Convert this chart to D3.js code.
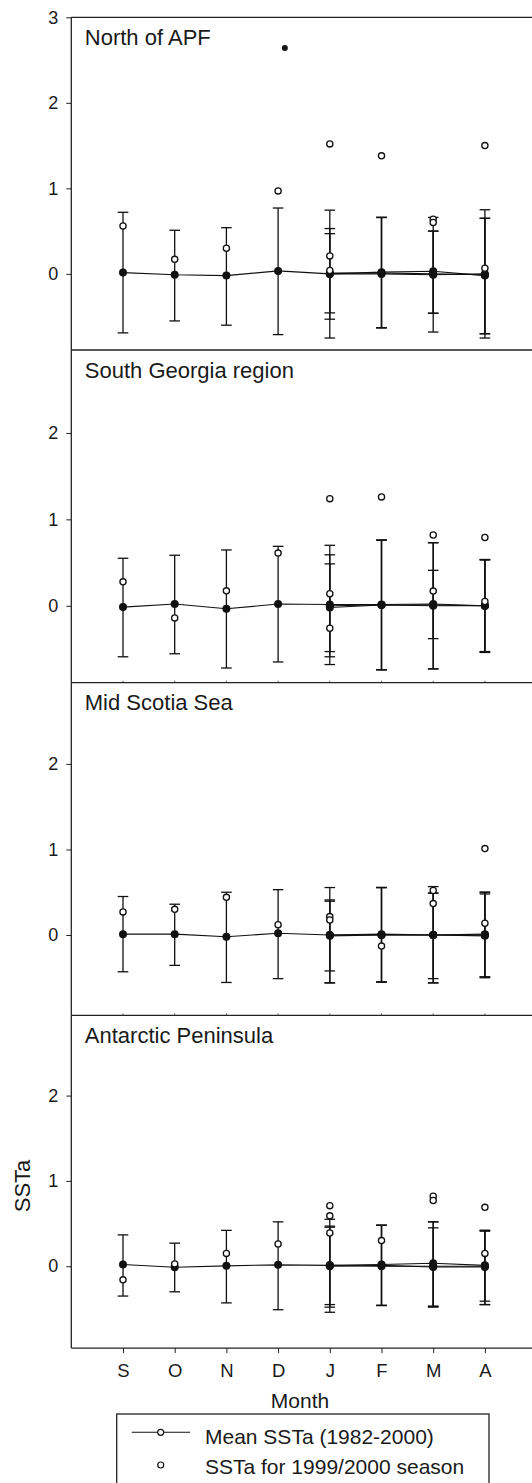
<!DOCTYPE html>
<html>
<head>
<meta charset="utf-8">
<script src="https://cdn.jsdelivr.net/npm/d3@7"></script>
<style>
  body { margin: 0; background: #fff; }
  text { font-family: "Liberation Sans", Arial, sans-serif; fill: #1a1a1a; }
</style>
</head>
<body>
<div id="chart"></div>
<script>
// Months on the x axis
var months = ["S", "O", "N", "D", "J", "F", "M", "A"];
var lateMonths = ["J", "F", "M", "A"];

// Panel names
var regions = ["North of APF", "South Georgia region", "Mid Scotia Sea", "Antarctic Peninsula"];

// y range of each panel
var yTop = [3.0, 2.96, 2.95, 2.94];
var yBottom = [-0.89, -0.89, -0.94, -0.96];

// Mean SSTa (1982-2000), whole season S..A, with error bar ends
var meanMain = [
  [0.015, -0.01, -0.02, 0.035, 0.0, 0.02, 0.03, -0.02],
  [-0.015, 0.02, -0.035, 0.02, 0.015, 0.015, 0.02, 0.0],
  [0.01, 0.01, -0.02, 0.02, 0.0, 0.01, 0.0, 0.01],
  [0.02, -0.012, 0.004, 0.016, 0.01, 0.02, 0.035, 0.01]
];
var upMain = [
  [0.72, 0.51, 0.54, 0.77, 0.745, 0.66, 0.66, 0.75],
  [0.55, 0.585, 0.646, 0.688, 0.70, 0.76, 0.73, 0.535],
  [0.45, 0.36, 0.50, 0.53, 0.555, 0.555, 0.566, 0.50],
  [0.367, 0.27, 0.42, 0.52, 0.55, 0.48, 0.52, 0.42]
];
var loMain = [
  [-0.69, -0.55, -0.60, -0.71, -0.75, -0.63, -0.68, -0.75],
  [-0.59, -0.555, -0.72, -0.65, -0.68, -0.74, -0.73, -0.53],
  [-0.43, -0.355, -0.555, -0.51, -0.56, -0.55, -0.56, -0.49],
  [-0.35, -0.30, -0.43, -0.51, -0.54, -0.46, -0.47, -0.45]
];

// Two further mean series, J..A
var meanB = [
  [0.01, 0.01, 0.0, -0.01],
  [-0.02, 0.01, 0.01, 0.0],
  [0.0, 0.0, 0.0, -0.01],
  [0.0, 0.01, -0.01, -0.01]
];
var upB = [
  [0.53, 0.66, 0.50, 0.65],
  [0.59, 0.76, 0.41, 0.53],
  [0.41, 0.555, 0.49, 0.48],
  [0.47, 0.48, 0.45, 0.41]
];
var loB = [
  [-0.53, -0.63, -0.46, -0.70],
  [-0.59, -0.74, -0.38, -0.54],
  [-0.42, -0.55, -0.51, -0.50],
  [-0.45, -0.46, -0.48, -0.41]
];
var meanC = [
  [0.0, 0.0, -0.01, 0.0],
  [0.0, 0.01, 0.0, 0.0],
  [-0.01, 0.0, 0.0, 0.0],
  [0.01, 0.0, 0.0, 0.0]
];
var upC = [
  [0.47, 0.66, 0.50, 0.65],
  [0.485, 0.76, 0.73, 0.535],
  [0.395, 0.555, 0.49, 0.50],
  [0.457, 0.48, 0.52, 0.42]
];
var loC = [
  [-0.456, -0.63, -0.46, -0.70],
  [-0.53, -0.74, -0.73, -0.53],
  [-0.56, -0.55, -0.56, -0.49],
  [-0.48, -0.46, -0.47, -0.45]
];

// SSTa for 1999/2000 season (month, value)
var season = [
  [["S", 0.56], ["O", 0.17], ["N", 0.30], ["D", 0.97], ["J", 1.52], ["J", 0.21], ["J", 0.04],
   ["F", 1.38], ["M", 0.64], ["M", 0.60], ["A", 1.50], ["A", 0.065]],
  [["S", 0.277], ["O", -0.14], ["N", 0.173], ["D", 0.61], ["J", 1.24], ["J", 0.14], ["J", -0.26],
   ["F", 1.26], ["M", 0.82], ["M", 0.17], ["A", 0.79], ["A", 0.05]],
  [["S", 0.27], ["O", 0.30], ["N", 0.44], ["D", 0.12], ["J", 0.215], ["J", 0.176],
   ["F", -0.13], ["M", 0.52], ["M", 0.367], ["A", 1.01], ["A", 0.137]],
  [["S", -0.16], ["O", 0.027], ["N", 0.15], ["D", 0.26], ["J", 0.71], ["J", 0.59], ["J", 0.39],
   ["F", 0.30], ["M", 0.82], ["M", 0.77], ["A", 0.69], ["A", 0.15]]
];

// lone filled point in the first panel (month position, value)
var extraPoint = [4.13, 2.64];

var yTicks = [[0, 1, 2, 3], [0, 1, 2], [0, 1, 2], [0, 1, 2]];

// canvas
var svgWidth = 532;
var svgHeight = 1483;
var left = 71.3;
var top0 = 17.3;
var panelH = 332.7;

var svg = d3.select("#chart")
  .append("svg")
  .attr("width", svgWidth)
  .attr("height", svgHeight);

var x = d3.scaleLinear()
  .domain([0, 9])
  .range([left, left + 9 * 51.7]);

function mx(m) { return x(months.indexOf(m) + 1); }

regions.forEach(function (name, p) {
  var pTop = top0 + p * panelH;
  var y = d3.scaleLinear()
    .domain([yBottom[p], yTop[p]])
    .range([pTop + panelH, pTop]);

  var g = svg.append("g");

  // frame: top line
  g.append("line")
    .attr("x1", left).attr("x2", svgWidth + 10)
    .attr("y1", pTop).attr("y2", pTop)
    .attr("stroke", "#222").attr("stroke-width", 1.3);

  // left axis
  var leftAxis = d3.axisLeft(y).tickValues(yTicks[p]).tickSize(5).tickPadding(8)
    .tickFormat(d3.format("d"));
  var ax = g.append("g")
    .attr("transform", `translate(${left},0)`)
    .call(leftAxis);
  ax.select(".domain").attr("stroke", "#222").attr("stroke-width", 1.3)
    .attr("d", `M0,${pTop}V${pTop + panelH}`);
  ax.selectAll(".tick line").attr("stroke", "#222");
  ax.selectAll(".tick text")
    .style("font-size", "18px")
    .style("font-family", "'Liberation Sans', Arial, sans-serif")
    .attr("fill", "#1a1a1a");

  // small inner ticks at panel bottom
  if (p > 0 && p < 3) {
    g.selectAll(".itick")
      .data(months)
      .enter()
      .append("line")
      .attr("x1", d => mx(d)).attr("x2", d => mx(d))
      .attr("y1", pTop + panelH).attr("y2", pTop + panelH - 2)
      .attr("stroke", "#444").attr("stroke-width", 0.8);
  }

  // region name
  g.append("text")
    .attr("x", left + 13.5)
    .attr("y", pTop + 27.7)
    .style("font-size", "22px")
    .text(name);

  // error bars
  var bars = [];
  months.forEach(function (m, i) {
    bars.push({ m: m, lo: loMain[p][i], up: upMain[p][i] });
  });
  lateMonths.forEach(function (m, i) {
    bars.push({ m: m, lo: loB[p][i], up: upB[p][i] });
    bars.push({ m: m, lo: loC[p][i], up: upC[p][i] });
  });

  var eb = g.selectAll(".eb")
    .data(bars)
    .enter()
    .append("g");
  eb.append("line")
    .attr("x1", d => mx(d.m)).attr("x2", d => mx(d.m))
    .attr("y1", d => y(d.lo)).attr("y2", d => y(d.up))
    .attr("stroke", "#111").attr("stroke-width", 1.3);
  eb.append("line")
    .attr("x1", d => mx(d.m) - 5.3).attr("x2", d => mx(d.m) + 5.3)
    .attr("y1", d => y(d.up)).attr("y2", d => y(d.up))
    .attr("stroke", "#111").attr("stroke-width", 1.3);
  eb.append("line")
    .attr("x1", d => mx(d.m) - 5.3).attr("x2", d => mx(d.m) + 5.3)
    .attr("y1", d => y(d.lo)).attr("y2", d => y(d.lo))
    .attr("stroke", "#111").attr("stroke-width", 1.3);

  // mean lines
  var line = d3.line()
    .x(d => mx(d[0]))
    .y(d => y(d[1]));
  var seriesList = [
    months.map((m, i) => [m, meanMain[p][i]]),
    lateMonths.map((m, i) => [m, meanB[p][i]]),
    lateMonths.map((m, i) => [m, meanC[p][i]])
  ];
  g.selectAll(".mline")
    .data(seriesList)
    .enter()
    .append("path")
    .attr("d", line)
    .attr("fill", "none")
    .attr("stroke", "#111")
    .attr("stroke-width", 1.1);

  // filled mean markers
  var allMeans = [].concat(seriesList[0], seriesList[1], seriesList[2]);
  g.selectAll(".mdot")
    .data(allMeans)
    .enter()
    .append("circle")
    .attr("cx", d => mx(d[0]))
    .attr("cy", d => y(d[1]))
    .attr("r", 4)
    .attr("fill", "#111");

  // 1999/2000 season points
  g.selectAll(".sdot")
    .data(season[p])
    .enter()
    .append("circle")
    .attr("cx", d => mx(d[0]))
    .attr("cy", d => y(d[1]))
    .attr("r", 3.1)
    .attr("fill", "#fff")
    .attr("stroke", "#111")
    .attr("stroke-width", 1.3);

  if (p === 0) {
    g.append("circle")
      .attr("cx", x(extraPoint[0]))
      .attr("cy", y(extraPoint[1]))
      .attr("r", 3)
      .attr("fill", "#111");
  }

  // bottom axis on the last panel
  if (p === 3) {
    var bottomAxis = d3.axisBottom(x)
      .tickValues(d3.range(1, 9))
      .tickFormat(d => months[d - 1])
      .tickSize(5)
      .tickPadding(11);
    var bx = g.append("g")
      .attr("transform", `translate(0,${pTop + panelH})`)
      .call(bottomAxis);
    bx.select(".domain").attr("stroke", "#222").attr("stroke-width", 1.3)
      .attr("d", `M${left},0H${svgWidth + 10}`);
    bx.selectAll(".tick line").attr("stroke", "#222");
    bx.selectAll(".tick text")
      .style("font-size", "18.5px")
      .style("font-family", "'Liberation Sans', Arial, sans-serif")
      .attr("fill", "#1a1a1a");
  }
});

// axis titles
svg.append("text")
  .attr("x", 300)
  .attr("y", 1408.3)
  .style("font-size", "21px")
  .style("text-anchor", "middle")
  .text("Month");

svg.append("text")
  .attr("transform", "translate(30,1186) rotate(-90)")
  .style("font-size", "22px")
  .style("text-anchor", "middle")
  .text("SSTa");

// legend
var legend = svg.append("g");
legend.append("rect")
  .attr("x", 116.7).attr("y", 1414)
  .attr("width", 372.3).attr("height", 90)
  .attr("fill", "#fff")
  .attr("stroke", "#222").attr("stroke-width", 1.3);
legend.append("line")
  .attr("x1", 131.7).attr("x2", 190)
  .attr("y1", 1432.3).attr("y2", 1432.3)
  .attr("stroke", "#111").attr("stroke-width", 1.1);
legend.append("circle")
  .attr("cx", 160.7).attr("cy", 1432.3).attr("r", 3)
  .attr("fill", "#fff").attr("stroke", "#111").attr("stroke-width", 1.2);
legend.append("circle")
  .attr("cx", 160.7).attr("cy", 1465).attr("r", 3)
  .attr("fill", "#fff").attr("stroke", "#111").attr("stroke-width", 1.2);
legend.append("text")
  .attr("x", 205).attr("y", 1444)
  .style("font-size", "21px")
  .text("Mean SSTa (1982-2000)");
legend.append("text")
  .attr("x", 205).attr("y", 1474)
  .style("font-size", "21px")
  .text("SSTa for 1999/2000 season");
</script>
</body>
</html>
